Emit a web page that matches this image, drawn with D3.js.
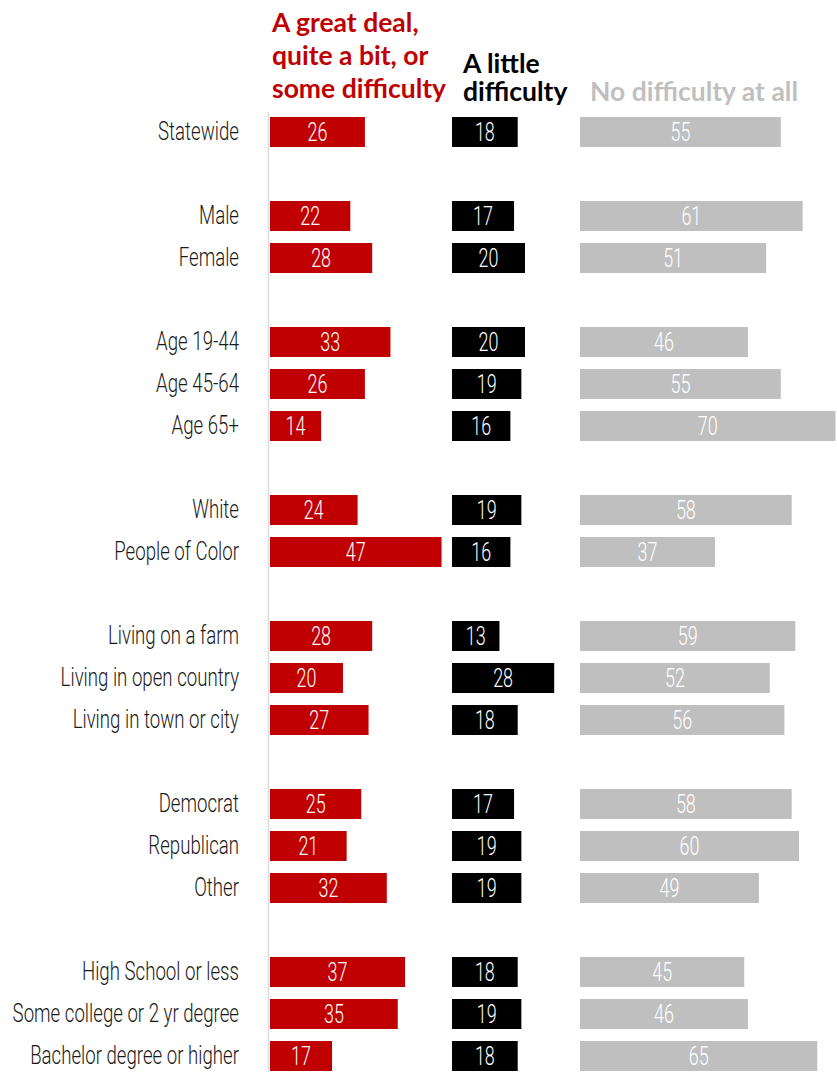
<!DOCTYPE html>
<html>
<head>
<meta charset="utf-8">
<script src="https://cdn.jsdelivr.net/npm/d3@7"></script>
<style>
  html, body { margin: 0; padding: 0; background: #ffffff; }
  svg { display: block; }
</style>
</head>
<body>
<div id="chart"></div>
<script>
// ---- Data ----
const categories = [
  "Statewide",
  "Male", "Female",
  "Age 19-44", "Age 45-64", "Age 65+",
  "White", "People of Color",
  "Living on a farm", "Living in open country", "Living in town or city",
  "Democrat", "Republican", "Other",
  "High School or less", "Some college or 2 yr degree", "Bachelor degree or higher"
];
// group index of each category (a blank row separates groups)
const groups = [0, 1, 1, 2, 2, 2, 3, 3, 4, 4, 4, 5, 5, 5, 6, 6, 6];
const someDifficulty   = [26, 22, 28, 33, 26, 14, 24, 47, 28, 20, 27, 25, 21, 32, 37, 35, 17];
const littleDifficulty = [18, 17, 20, 20, 19, 16, 19, 16, 13, 28, 18, 17, 19, 19, 18, 19, 18];
const noDifficulty     = [55, 61, 51, 46, 55, 70, 58, 37, 59, 52, 56, 58, 60, 49, 45, 46, 65];
const seriesNames = [
  ["A great deal,", "quite a bit, or", "some difficulty"],
  ["A little", "difficulty"],
  ["No difficulty at all"]
];
const seriesColors = ["#C00000", "#000000", "#BFBFBF"];

// ---- Layout ----
const W = 837, H = 1072;
const svg = d3.select("#chart").append("svg").attr("width", W).attr("height", H);

const slotIndex = categories.map((c, i) => i + groups[i]);
const nSlots = d3.max(slotIndex) + 1;
const y = d3.scaleBand()
  .domain(d3.range(nSlots))
  .range([111, 111 + nSlots * 42])
  .paddingInner(12 / 42)
  .paddingOuter(6 / 42);

const colStarts = [270, 452, 580];
const xScales = colStarts.map(s => d3.scaleLinear().domain([0, 100]).range([s, s + 365]));
const seriesValues = [someDifficulty, littleDifficulty, noDifficulty];

svg.append("line")
  .attr("x1", 268.5).attr("x2", 268.5)
  .attr("y1", 112).attr("y2", H)
  .attr("stroke", "#D9DCE6").attr("stroke-width", 1.5);

const labelFont = "Roboto, 'Noto Sans', sans-serif";

// measure a condensing factor so the label font matches the narrow face of the original
const probe = svg.append("text")
  .style("font-family", labelFont).style("font-size", "26px").style("font-weight", 300)
  .text("Statewide");
const probeW = probe.node().getComputedTextLength() || 114;
probe.remove();
const sx = 81 / probeW;

// bars
seriesValues.forEach((vals, s) => {
  const x = xScales[s];
  const g = svg.append("g");
  g.selectAll("rect").data(vals).join("rect")
    .attr("x", x(0))
    .attr("y", (d, i) => y(slotIndex[i]))
    .attr("width", d => x(d) - x(0))
    .attr("height", y.bandwidth())
    .attr("fill", seriesColors[s]);
  g.selectAll("text").data(vals).join("text")
    .attr("transform", (d, i) =>
      `translate(${(x(0) + x(d)) / 2},${y(slotIndex[i]) + y.bandwidth() / 2 + 9}) scale(${sx},1)`)
    .attr("text-anchor", "middle")
    .attr("fill", "#ffffff")
    .style("font-family", labelFont)
    .style("font-weight", 300)
    .style("font-size", "25px")
    .text(d => d);
});

// category labels
svg.append("g").selectAll("text").data(categories).join("text")
  .attr("transform", (d, i) =>
    `translate(239,${y(slotIndex[i]) + y.bandwidth() / 2 + 8}) scale(${sx},1)`)
  .attr("text-anchor", "end")
  .attr("fill", "#1a1a1a")
  .style("font-family", labelFont)
  .style("font-weight", 300)
  .style("font-size", "26px")
  .text(d => d);

// headers
const headerFont = "Lato, 'Open Sans', sans-serif";
const headerX = [272, 463, 590];
const headerBaselines = [[32, 65, 98], [73, 101], [101]];
seriesNames.forEach((lines, s) => {
  const t = svg.append("text")
    .attr("fill", seriesColors[s])
    .style("font-family", headerFont)
    .style("font-weight", "bold")
    .style("font-size", "26.5px");
  lines.forEach((ln, j) => {
    t.append("tspan").attr("x", headerX[s]).attr("y", headerBaselines[s][j]).text(ln);
  });
});
</script>
</body>
</html>
